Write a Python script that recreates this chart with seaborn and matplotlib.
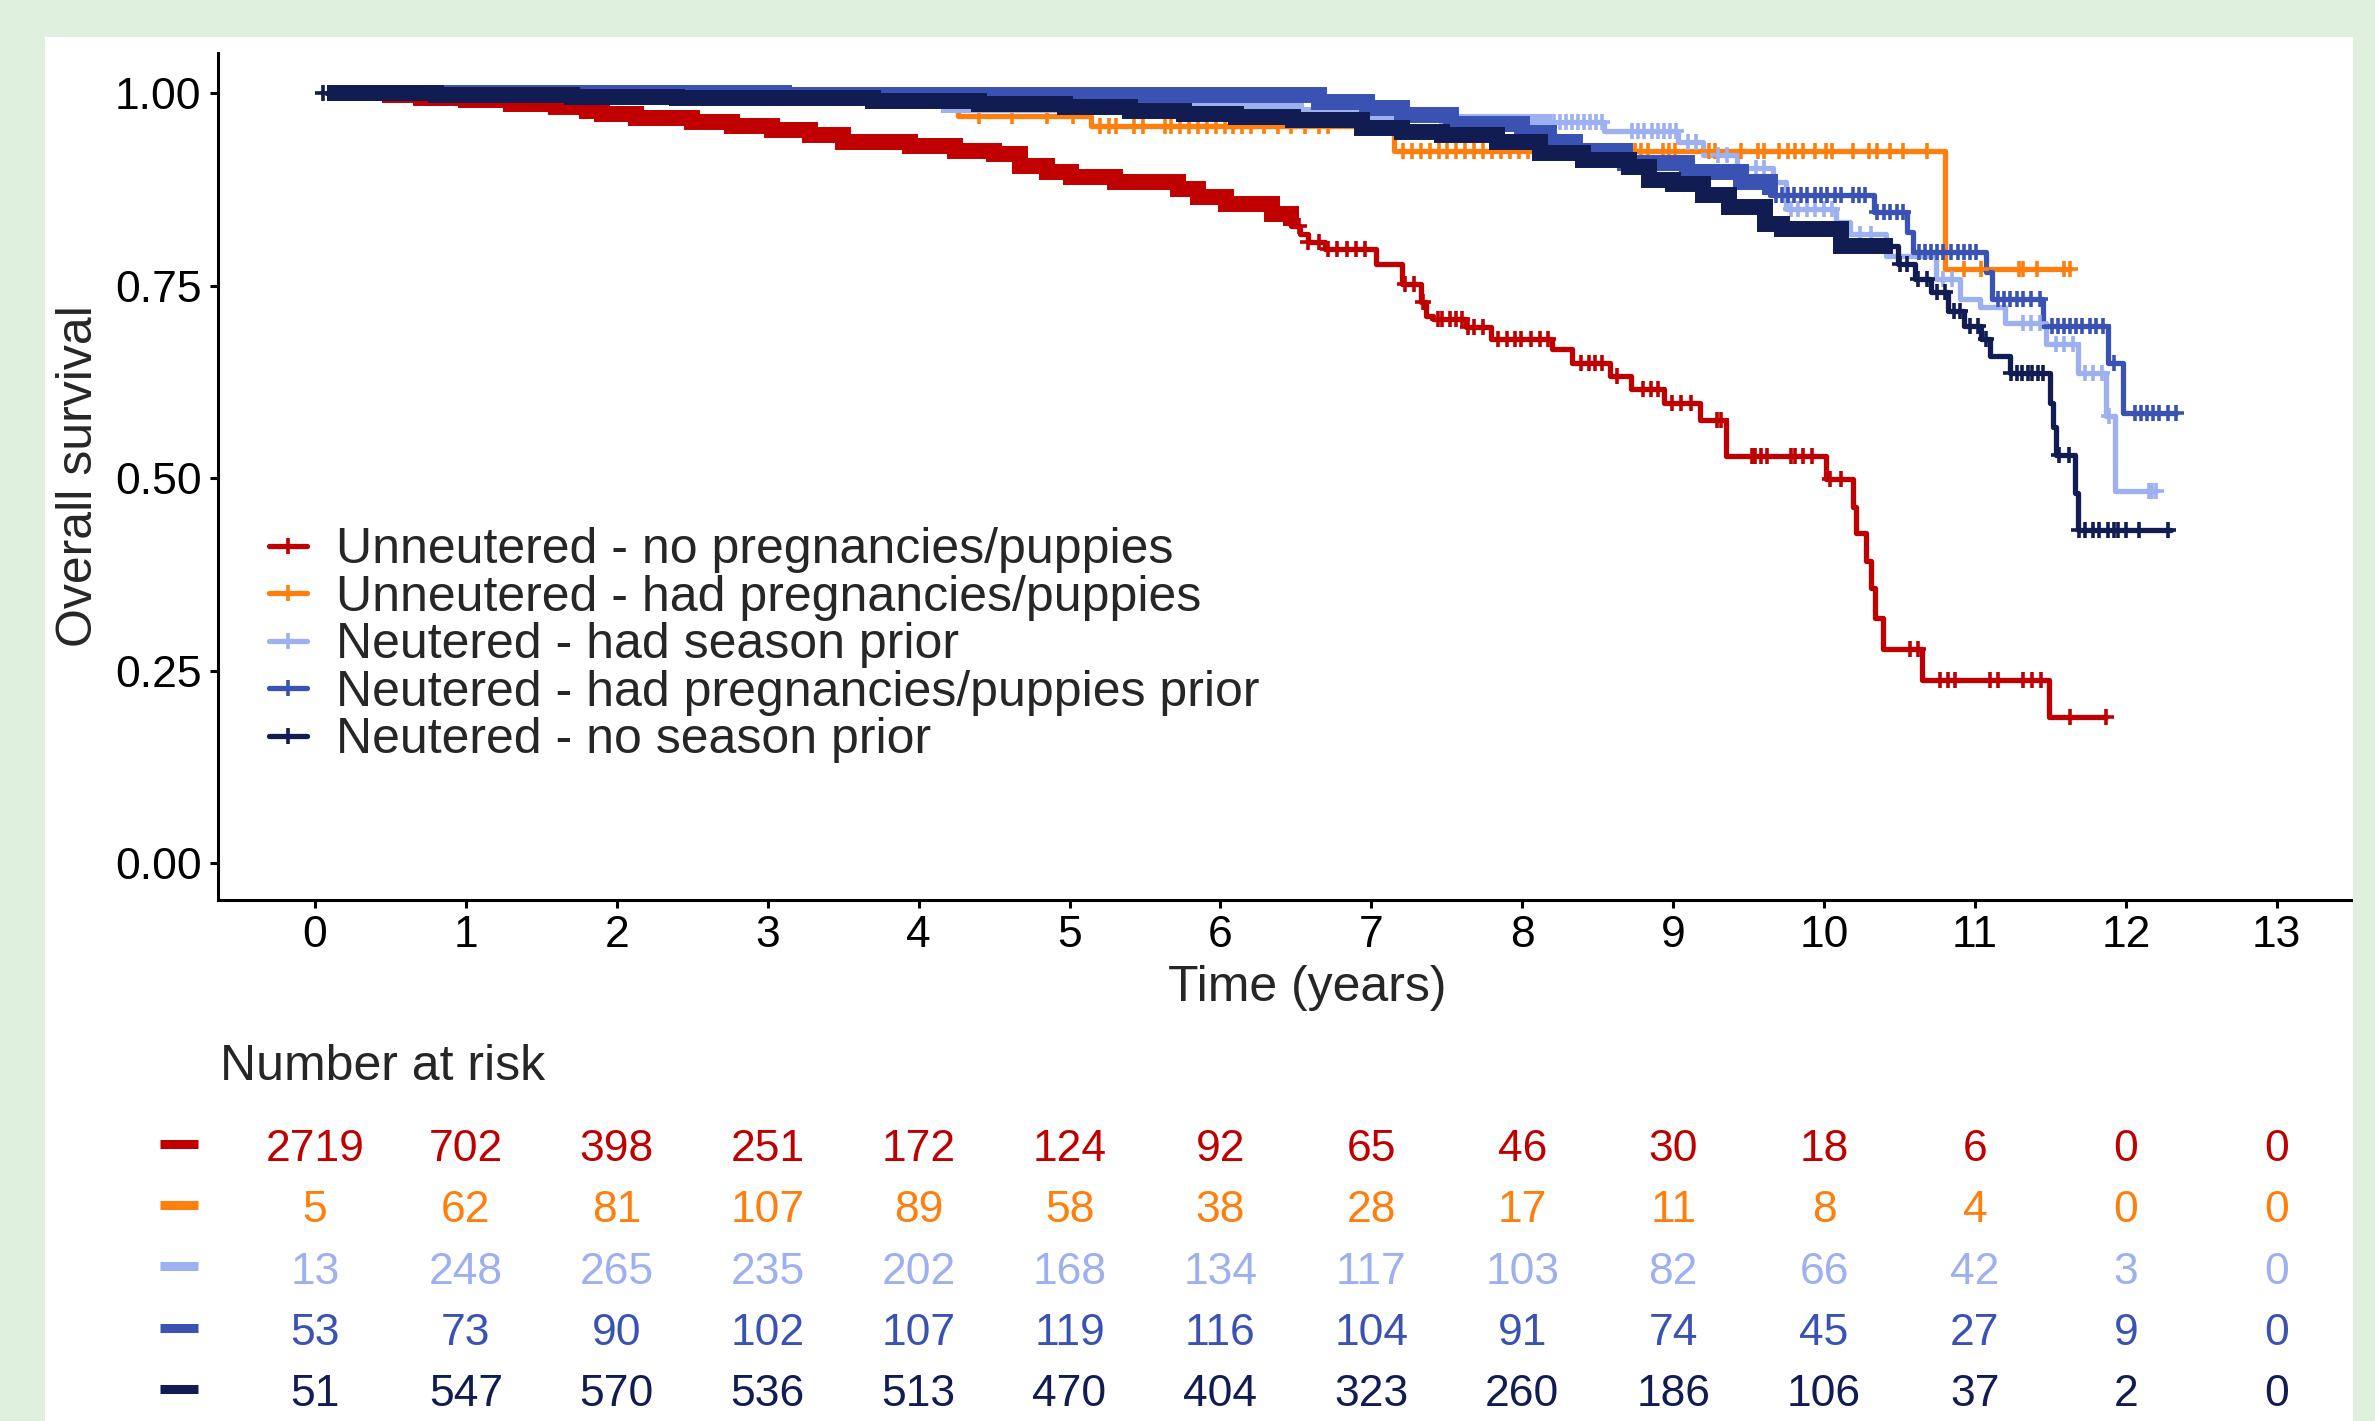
import numpy as np
import pandas as pd
import matplotlib
matplotlib.use("Agg")
import matplotlib.pyplot as plt
from matplotlib.lines import Line2D
from matplotlib.patches import Rectangle
import seaborn as sns

# Grupos y colores
groups = ["Unneutered - no pregnancies/puppies",
          "Unneutered - had pregnancies/puppies",
          "Neutered - had season prior",
          "Neutered - had pregnancies/puppies prior",
          "Neutered - no season prior"]
colours = ["#C00000", "#FF7F0E", "#9DB0F0", "#3A53B3", "#111C52"]

# Curvas Kaplan-Meier: tiempo (años) y supervivencia tras cada escalón
red_t = [0.08, 0.50, 0.70, 1.00, 1.30, 1.60, 1.80, 1.90, 2.13, 2.50, 2.76, 3.03, 3.28, 3.50,
         3.94, 4.24, 4.50, 4.67, 4.85, 5.01, 5.30, 5.72, 5.85, 6.04, 6.34, 6.47, 6.53, 6.58,
         6.69, 7.03, 7.20, 7.33, 7.36, 7.41, 7.63, 7.79, 8.20, 8.33, 8.58, 8.72, 8.94, 9.18,
         9.35, 10.01, 10.19, 10.21, 10.28, 10.31, 10.34, 10.39, 10.65, 11.49, 11.87]
red_s = [1.000, 0.997, 0.994, 0.991, 0.986, 0.982, 0.977, 0.973, 0.968, 0.962, 0.957, 0.952,
         0.945, 0.936, 0.931, 0.925, 0.921, 0.905, 0.898, 0.891, 0.884, 0.875, 0.865, 0.856,
         0.843, 0.827, 0.817, 0.806, 0.797, 0.778, 0.752, 0.728, 0.710, 0.706, 0.696, 0.680,
         0.667, 0.650, 0.632, 0.615, 0.598, 0.576, 0.528, 0.499, 0.463, 0.428, 0.392, 0.357,
         0.318, 0.278, 0.238, 0.190, 0.190]

orange_t = [0.08, 4.26, 5.14, 7.15, 10.80, 11.63]
orange_s = [1.000, 0.970, 0.957, 0.925, 0.772, 0.772]

light_t = [0.08, 1.50, 3.00, 4.20, 5.50, 6.50, 7.50, 8.54, 9.03, 9.20, 9.42, 9.66, 9.75,
           10.08, 10.17, 10.41, 10.74, 10.90, 11.03, 11.20, 11.47, 11.68, 11.87, 11.93, 12.20]
light_s = [1.000, 0.997, 0.994, 0.985, 0.978, 0.972, 0.962, 0.951, 0.936, 0.920, 0.903, 0.884,
           0.849, 0.832, 0.817, 0.788, 0.758, 0.732, 0.722, 0.702, 0.674, 0.637, 0.580, 0.483,
           0.483]

mid_t = [0.08, 3.11, 5.00, 6.65, 6.97, 7.20, 7.53, 8.00, 8.18, 8.35, 8.68, 9.09, 9.45, 9.64,
         10.33, 10.55, 10.59, 11.07, 11.11, 11.45, 11.88, 11.98, 12.33]
mid_s = [1.000, 0.998, 0.997, 0.989, 0.981, 0.972, 0.960, 0.948, 0.936, 0.925, 0.909, 0.897,
         0.884, 0.868, 0.845, 0.819, 0.793, 0.767, 0.733, 0.698, 0.650, 0.585, 0.585]

navy_t = [0.08, 0.80, 1.70, 2.40, 3.70, 4.40, 4.97, 5.40, 5.76, 6.10, 6.48, 6.94, 7.20, 7.47,
          7.83, 8.12, 8.40, 8.71, 8.84, 9.00, 9.20, 9.37, 9.61, 9.72, 10.11, 10.49, 10.60,
          10.71, 10.82, 10.93, 11.04, 11.10, 11.23, 11.50, 11.52, 11.54, 11.66, 11.68, 12.30]
navy_s = [1.000, 0.998, 0.995, 0.993, 0.990, 0.986, 0.982, 0.977, 0.973, 0.969, 0.965, 0.955,
          0.950, 0.945, 0.937, 0.922, 0.913, 0.904, 0.887, 0.882, 0.868, 0.852, 0.830, 0.823,
          0.801, 0.778, 0.758, 0.741, 0.717, 0.697, 0.680, 0.658, 0.637, 0.598, 0.566, 0.530,
          0.481, 0.433, 0.433]

# Censuras: tramo donde las marcas forman una banda continua + marcas sueltas
red_dense = (0.08, 6.47)
red_marks = [6.52, 6.58, 6.65, 6.71, 6.77, 6.84, 6.90, 6.96, 7.22, 7.28, 7.34, 7.44, 7.47,
             7.52, 7.56, 7.60, 7.64, 7.68, 7.74, 7.84, 7.90, 7.95, 7.99, 8.06, 8.12, 8.17,
             8.39, 8.44, 8.48, 8.53, 8.63, 8.80, 8.85, 8.90, 8.99, 9.05, 9.12, 9.29, 9.32,
             9.52, 9.54, 9.58, 9.62, 9.78, 9.81, 9.86, 9.92, 10.04, 10.11, 10.57, 10.62,
             10.77, 10.82, 10.87, 11.10, 11.15, 11.32, 11.38, 11.44, 11.63, 11.87]
orange_dense = None
orange_marks = [2.79, 4.40, 4.62, 4.85, 5.02, 5.20, 5.26, 5.31, 5.43, 5.49, 5.63, 5.67, 5.73,
                5.79, 5.85, 5.91, 5.97, 6.03, 6.08, 6.14, 6.20, 6.29, 6.38, 6.47, 6.56, 6.65,
                6.71, 7.21, 7.27, 7.33, 7.39, 7.45, 7.50, 7.56, 7.62, 7.68, 7.74, 7.80, 7.86,
                7.92, 7.98, 8.04, 8.10, 8.35, 8.39, 8.43, 8.47, 8.51, 8.55, 8.60, 8.71, 8.75,
                8.79, 8.83, 8.93, 8.97, 9.01, 9.24, 9.28, 9.45, 9.56, 9.60, 9.70, 9.76, 9.81,
                9.86, 9.94, 10.01, 10.05, 10.19, 10.30, 10.35, 10.44, 10.52, 10.68, 10.93,
                11.04, 11.29, 11.32, 11.41, 11.59, 11.63]
light_dense = (0.08, 8.20)
light_marks = [8.21, 8.25, 8.29, 8.33, 8.37, 8.41, 8.45, 8.49, 8.53, 8.73, 8.77, 8.81, 8.86,
               8.90, 8.94, 8.98, 9.02, 9.10, 9.15, 9.30, 9.36, 9.55, 9.60, 9.78, 9.83, 9.89,
               9.94, 10.00, 10.05, 10.24, 10.31, 10.79, 10.85, 11.32, 11.37, 11.43, 11.54,
               11.59, 11.65, 11.73, 11.78, 11.84, 11.89, 12.15, 12.17, 12.20]
mid_dense = (0.08, 9.64)
mid_marks = [9.68, 9.72, 9.76, 9.80, 9.85, 9.89, 9.94, 9.98, 10.02, 10.07, 10.11, 10.19, 10.23,
             10.27, 10.35, 10.40, 10.44, 10.48, 10.52, 10.63, 10.67, 10.71, 10.75, 10.79,
             10.84, 10.89, 10.93, 10.97, 11.01, 11.15, 11.19, 11.23, 11.28, 11.32, 11.37,
             11.43, 11.51, 11.55, 11.59, 11.63, 11.67, 11.71, 11.76, 11.80, 11.85, 11.92,
             12.06, 12.10, 12.14, 12.18, 12.22, 12.28, 12.33]
navy_dense = (0.08, 10.46)
navy_marks = [0.05, 10.50, 10.55, 10.62, 10.68, 10.75, 10.80, 10.86, 10.90, 10.97, 11.02,
              11.07, 11.24, 11.28, 11.31, 11.35, 11.38, 11.42, 11.45, 11.56, 11.62, 11.69,
              11.73, 11.78, 11.82, 11.88, 11.92, 11.95, 12.00, 12.09, 12.28]

# Tabla de número en riesgo
risk_times = list(range(14))
risk_red = [2719, 702, 398, 251, 172, 124, 92, 65, 46, 30, 18, 6, 0, 0]
risk_orange = [5, 62, 81, 107, 89, 58, 38, 28, 17, 11, 8, 4, 0, 0]
risk_light = [13, 248, 265, 235, 202, 168, 134, 117, 103, 82, 66, 42, 3, 0]
risk_mid = [53, 73, 90, 102, 107, 119, 116, 104, 91, 74, 45, 27, 9, 0]
risk_navy = [51, 547, 570, 536, 513, 470, 404, 323, 260, 186, 106, 37, 2, 0]

times = [red_t, orange_t, light_t, mid_t, navy_t]
survs = [red_s, orange_s, light_s, mid_s, navy_s]
denses = [red_dense, orange_dense, light_dense, mid_dense, navy_dense]
marks = [red_marks, orange_marks, light_marks, mid_marks, navy_marks]
risks = [risk_red, risk_orange, risk_light, risk_mid, risk_navy]


def surv_at(t_steps, s_steps, t):
    idx = np.searchsorted(t_steps, t, side="right") - 1
    return np.asarray(s_steps)[np.clip(idx, 0, None)]


sns.set_style("ticks")
plt.rcParams["font.family"] = ["Liberation Sans", "DejaVu Sans"]

W, H = 2375, 1421
XLIM = (-0.643, 13.79)
fig = plt.figure(figsize=(W / 100, H / 100), dpi=100, facecolor="white")
ax = fig.add_axes([218 / W, 1 - 900 / H, 2178 / W, 847 / H])

steps = pd.concat([pd.DataFrame({"time": t, "surv": s, "group": g})
                   for g, t, s in zip(groups, times, survs)], ignore_index=True)
sns.lineplot(data=steps, x="time", y="surv", hue="group", hue_order=groups,
             palette=colours, estimator=None, sort=False, drawstyle="steps-post",
             linewidth=3.8, legend=False, ax=ax)

# marcas de censura (encima de todas las curvas)
for t, s, dense, mk, c in zip(times, survs, denses, marks, colours):
    if dense is not None:
        a, b = dense
        bt = [a] + [x for x in t if a < x < b] + [b]
        ax.plot(bt, surv_at(t, s, bt), drawstyle="steps-post", color=c, lw=11.5,
                solid_joinstyle="miter", solid_capstyle="butt", zorder=3)
    ax.plot(mk, surv_at(t, s, mk), ls="none", marker="+", ms=11.5, mew=2.6,
            color=c, zorder=3)

ax.set_xlim(*XLIM)
ax.set_ylim(-0.048, 1.052)
ax.set_xticks(risk_times)
ax.set_yticks([0, 0.25, 0.5, 0.75, 1.0])
ax.set_yticklabels(["0.00", "0.25", "0.50", "0.75", "1.00"])
ax.tick_params(labelsize=32, length=5.8, width=2.2, colors="black")
ax.tick_params(axis="x", pad=5)
ax.tick_params(axis="y", pad=6)
for side in ["top", "right"]:
    ax.spines[side].set_visible(False)
for side in ["left", "bottom"]:
    ax.spines[side].set_linewidth(2.2)
    ax.spines[side].set_color("black")

ax.set_xlabel("Time (years)", fontsize=36)
ax.xaxis.set_label_coords(0.5, -0.077)
ax.set_ylabel("Overall survival", fontsize=36)
ax.yaxis.set_label_coords(-0.0638, 0.5)
ax.yaxis.label.set_va("center")

handles = [Line2D([], [], color=c, lw=3.8, marker="+", ms=11.5, mew=2.6) for c in colours]
ax.legend(handles, groups, loc="upper left", bbox_to_anchor=(0.0234, 0.44),
          frameon=False, fontsize=36, handlelength=0.76, handletextpad=0.58,
          labelspacing=0.03, borderpad=0, borderaxespad=0)

# Tabla "Number at risk"
ax_r = fig.add_axes([218 / W, 0, 2178 / W, 391 / H])
ax_r.set_xlim(*XLIM)
ax_r.set_ylim(4.241, -2.137)
ax_r.axis("off")
ax_r.text(-0.63, -1.32, "Number at risk", fontsize=36, va="baseline", ha="left")
for i, (row, c) in enumerate(zip(risks, colours)):
    ax_r.plot([-1.027, -0.775], [i - 0.28, i - 0.28], color=c, lw=6.5,
              solid_capstyle="butt", clip_on=False)
    for t, n in zip(risk_times, row):
        ax_r.text(t, i, str(n), ha="center", va="baseline", fontsize=32, color=c)

# Marco verde
green = "#E0F0DE"
for x0, y0, w, h in [(0, 1 - 37 / H, 1, 37 / H), (0, 0, 45 / W, 1),
                     (2353 / W, 0, 1 - 2353 / W, 1)]:
    fig.add_artist(Rectangle((x0, y0), w, h, transform=fig.transFigure,
                             facecolor=green, edgecolor="none", zorder=10))

fig.savefig("out.png", dpi=100)
print("Gráfico guardado")
